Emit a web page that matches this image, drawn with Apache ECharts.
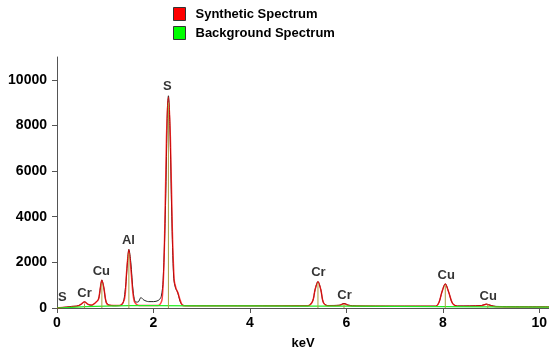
<!DOCTYPE html>
<html><head><meta charset="utf-8">
<script src="https://cdn.jsdelivr.net/npm/echarts@6/dist/echarts.min.js"></script>
<style>html,body{margin:0;padding:0;background:#fff}#c{width:549px;height:350px}</style>
</head><body><div id="c"></div>
<script>
// measured spectrum [keV, counts]
var measured = [[0,0],[0.1,20],[0.2,40],[0.3,70],[0.4,80],[0.5,160],[0.57,270],[0.65,150],[0.72,120],[0.8,250],[0.86,380],[0.9,900],[0.93,1230],[0.97,900],[1.02,250],[1.08,130],[1.2,100],[1.35,150],[1.42,900],[1.46,2000],[1.49,2570],[1.53,2000],[1.58,700],[1.63,260],[1.68,260],[1.74,460],[1.8,350],[1.9,280],[2.0,280],[2.1,330],[2.16,500],[2.2,1200],[2.25,4500],[2.29,8800],[2.31,9300],[2.34,8000],[2.38,4000],[2.42,1300],[2.46,850],[2.5,700],[2.55,300],[2.6,130],[2.7,100],[3.5,100],[4.5,95],[5.2,95],[5.3,300],[5.35,800],[5.41,1160],[5.47,800],[5.52,250],[5.6,110],[5.85,120],[5.95,200],[6.05,120],[6.2,90],[7.0,80],[7.85,80],[7.92,250],[7.98,700],[8.05,1060],[8.12,700],[8.2,200],[8.3,90],[8.8,110],[8.9,170],[9.0,110],[9.1,70],[10.2,50]];
// synthetic spectrum [keV, counts]
var synthetic = [[0,0],[0.3,60],[0.45,100],[0.5,170],[0.57,260],[0.65,160],[0.72,130],[0.8,230],[0.86,380],[0.9,900],[0.93,1220],[0.97,900],[1.02,250],[1.08,120],[1.3,110],[1.4,400],[1.44,1500],[1.49,2550],[1.54,1500],[1.6,300],[1.7,110],[2.1,110],[2.18,400],[2.23,3000],[2.27,7500],[2.31,9250],[2.35,7500],[2.39,3500],[2.43,1200],[2.47,850],[2.51,650],[2.56,300],[2.62,100],[5.2,95],[5.3,300],[5.35,800],[5.41,1150],[5.47,800],[5.52,250],[5.6,100],[5.85,110],[5.95,190],[6.05,110],[6.2,85],[7.85,75],[7.92,250],[7.98,700],[8.05,1050],[8.12,700],[8.2,200],[8.3,80],[8.8,100],[8.9,160],[9.0,100],[9.1,60],[10.2,45]];
// background spectrum [keV, counts]
var background = [[0,0],[0.3,30],[0.6,60],[1.0,85],[1.5,100],[2.0,100],[3.0,95],[4.0,90],[5.0,85],[6.0,80],[7.0,70],[8.0,60],[9.0,50],[10.2,40]];
// peak marker positions and heights
var markerKeV = [0.57,0.93,1.49,2.31,5.41,5.95,8.05,8.93];
var markerHeight = [200,1100,2400,9000,1100,180,1000,150];
// element labels
var labelText = ['S','Cr','Cu','Al','S','Cr','Cr','Cu','Cu'];
var labelKeV = [0.11,0.57,0.92,1.48,2.29,5.42,5.96,8.07,8.94];
var labelY = [480,655,1615,2970,9700,1570,570,1440,525];
var xTicks = [0,2,4,6,8,10];
var yTicks = [0,2000,4000,6000,8000,10000];

var chart = echarts.init(document.getElementById('c'));
var font = 'Liberation Sans, Arial, sans-serif';
chart.setOption({
  animation:false,
  legend:{
    orient:'vertical', left:168, top:2, itemGap:5, itemWidth:12, itemHeight:13,
    textStyle:{fontFamily:font,fontWeight:'bold',fontSize:13,color:'#000',padding:[0,0,0,5]},
    data:[
      {name:'Synthetic Spectrum',icon:'rect',itemStyle:{color:'#ff0000',borderColor:'#333',borderWidth:1}},
      {name:'Background Spectrum',icon:'rect',itemStyle:{color:'#00ff00',borderColor:'#333',borderWidth:1}}
    ]
  },
  grid:{left:57,right:0,top:57,bottom:42,outerBoundsMode:'none',containLabel:false},
  xAxis:{
    type:'value',min:0,max:10.2,interval:2,
    name:'keV',nameLocation:'middle',nameGap:29,
    nameTextStyle:{fontFamily:font,fontWeight:'bold',fontSize:13,color:'#000'},
    axisLine:{lineStyle:{color:'#555'}},
    axisTick:{length:5,lineStyle:{color:'#555'}},
    axisLabel:{fontFamily:font,fontWeight:'bold',fontSize:14,color:'#000',margin:8,showMaxLabel:false,hideOverlap:false,
      formatter:function(v){return xTicks.indexOf(v)>=0?String(v):'';}},
    splitLine:{show:false}
  },
  yAxis:{
    type:'value',min:0,max:11000,interval:2000,
    axisLine:{show:true,lineStyle:{color:'#555'}},
    axisTick:{show:true,length:5,lineStyle:{color:'#555'}},
    axisLabel:{fontFamily:font,fontWeight:'bold',fontSize:14,color:'#000',margin:10,showMaxLabel:false,
      formatter:function(v){return yTicks.indexOf(v)>=0?String(v):'';}},
    splitLine:{show:false}
  },
  series:[
    {name:'Measured',type:'line',data:measured,showSymbol:false,smooth:0.3,lineStyle:{color:'#222',width:1},z:2},
    {name:'Synthetic Spectrum',type:'line',data:synthetic,showSymbol:false,smooth:0.3,itemStyle:{color:'#ff0000'},lineStyle:{color:'rgba(255,0,0,0.75)',width:1.5},z:3},
    {name:'Background Spectrum',type:'line',data:background,showSymbol:false,itemStyle:{color:'#00ff00'},lineStyle:{color:'#22ee22',width:1.2},z:4},
    {name:'markers',type:'bar',barWidth:1,data:markerKeV.map(function(k,i){return [k,markerHeight[i]];}),itemStyle:{color:'#a8a040'},z:5},
    {name:'labels',type:'scatter',symbolSize:0,data:labelKeV.map(function(k,i){return {value:[k,labelY[i]],label:{formatter:labelText[i]}};}),
      label:{show:true,position:'inside',fontFamily:font,fontWeight:'bold',fontSize:13,color:'#000'},z:6}
  ]
});
</script></body></html>
